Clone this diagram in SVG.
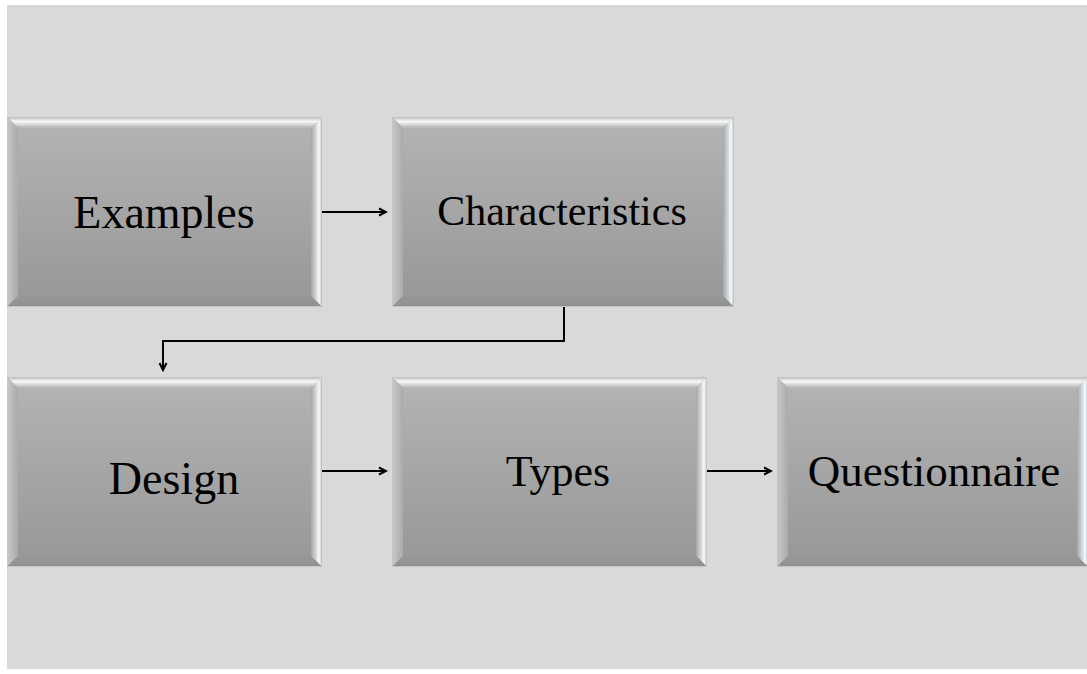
<svg xmlns="http://www.w3.org/2000/svg" width="1087" height="674" viewBox="0 0 1087 674">
  <defs>
    <style>
      .face { fill: url(#faceGrad); stroke: #c4c4c4; stroke-width: 1; }
      .bev-top { fill: url(#bevTop); }
      .bev-left { fill: url(#bevLeft); }
      .bev-right { fill: url(#bevRight); }
      .bev-bottom { fill: url(#bevBottom); }
      .label { font-family: "Liberation Serif", "Times New Roman", serif; fill: #000; text-anchor: middle; }
      .conn { fill: none; stroke: #000; stroke-width: 2; }
    </style>
    <linearGradient id="faceGrad" x1="0" y1="0" x2="0" y2="1">
      <stop offset="0" stop-color="#b4b4b4"/>
      <stop offset="1" stop-color="#979797"/>
    </linearGradient>
    <linearGradient id="bevTop" x1="0" y1="0" x2="0" y2="1">
      <stop offset="0" stop-color="#c8c8c8"/>
      <stop offset="0.35" stop-color="#f8f8f8"/>
      <stop offset="1" stop-color="#b4b4b4"/>
    </linearGradient>
    <linearGradient id="bevLeft" x1="0" y1="0" x2="1" y2="0">
      <stop offset="0" stop-color="#c6c6c6"/>
      <stop offset="1" stop-color="#aaaaaa"/>
    </linearGradient>
    <linearGradient id="bevRight" x1="0" y1="0" x2="1" y2="0">
      <stop offset="0" stop-color="#a6a6a6"/>
      <stop offset="0.55" stop-color="#d8dcde"/>
      <stop offset="0.8" stop-color="#f4fbff"/>
      <stop offset="1" stop-color="#cfd6da"/>
    </linearGradient>
    <linearGradient id="bevBottom" x1="0" y1="0" x2="0" y2="1">
      <stop offset="0" stop-color="#989898"/>
      <stop offset="1" stop-color="#909090"/>
    </linearGradient>
    <marker id="arrow" markerWidth="10" markerHeight="10" refX="8" refY="5" orient="auto" markerUnits="userSpaceOnUse">
      <path d="M1,1.5 L8,5 L1,8.5" fill="none" stroke="#000" stroke-width="2"/>
    </marker>
  </defs>

  <!-- canvas -->
  <rect x="0" y="0" width="1087" height="674" fill="#ffffff"/>
  <rect x="7" y="5" width="1080" height="664" fill="#d9d9d9"/>

  <!-- connectors -->
  <g id="connectors">
    <line class="conn" x1="322" y1="212" x2="386" y2="212" marker-end="url(#arrow)"/>
    <polyline class="conn" points="564,306 564,341 163,341 163,370" marker-end="url(#arrow)"/>
    <line class="conn" x1="322" y1="471" x2="386" y2="471" marker-end="url(#arrow)"/>
    <line class="conn" x1="707" y1="471" x2="771" y2="471" marker-end="url(#arrow)"/>
  </g>

  <!-- Examples -->
  <g id="node-examples">
    <rect class="face" x="7.5" y="117.5" width="314" height="189"/>
    <polygon class="bev-top" points="8,118 321,118 311,128 18,128"/>
    <polygon class="bev-left" points="8,118 18,128 18,296 8,306"/>
    <polygon class="bev-right" points="321,118 321,306 311,296 311,128"/>
    <polygon class="bev-bottom" points="8,306 18,296 311,296 321,306"/>
    <text class="label" x="164" y="228" font-size="46">Examples</text>
  </g>

  <!-- Characteristics -->
  <g id="node-characteristics">
    <rect class="face" x="392.5" y="117.5" width="341" height="189"/>
    <polygon class="bev-top" points="393,118 733,118 723,128 403,128"/>
    <polygon class="bev-left" points="393,118 403,128 403,296 393,306"/>
    <polygon class="bev-right" points="733,118 733,306 723,296 723,128"/>
    <polygon class="bev-bottom" points="393,306 403,296 723,296 733,306"/>
    <text class="label" x="562" y="225" font-size="42">Characteristics</text>
  </g>

  <!-- Design -->
  <g id="node-design">
    <rect class="face" x="7.5" y="377.5" width="314" height="189"/>
    <polygon class="bev-top" points="8,378 321,378 311,388 18,388"/>
    <polygon class="bev-left" points="8,378 18,388 18,556 8,566"/>
    <polygon class="bev-right" points="321,378 321,566 311,556 311,388"/>
    <polygon class="bev-bottom" points="8,566 18,556 311,556 321,566"/>
    <text class="label" x="174" y="494" font-size="46">Design</text>
  </g>

  <!-- Types -->
  <g id="node-types">
    <rect class="face" x="392.5" y="377.5" width="314" height="189"/>
    <polygon class="bev-top" points="393,378 706,378 696,388 403,388"/>
    <polygon class="bev-left" points="393,378 403,388 403,556 393,566"/>
    <polygon class="bev-right" points="706,378 706,566 696,556 696,388"/>
    <polygon class="bev-bottom" points="393,566 403,556 696,556 706,566"/>
    <text class="label" x="558" y="486" font-size="44">Types</text>
  </g>

  <!-- Questionnaire -->
  <g id="node-questionnaire">
    <rect class="face" x="777.5" y="377.5" width="314" height="189"/>
    <polygon class="bev-top" points="778,378 1087,378 1077,388 788,388"/>
    <polygon class="bev-left" points="778,378 788,388 788,556 778,566"/>
    <polygon class="bev-right" points="1087,378 1087,566 1077,556 1077,388"/>
    <polygon class="bev-bottom" points="778,566 788,556 1077,556 1087,566"/>
    <text class="label" x="934" y="486" font-size="45">Questionnaire</text>
  </g>
</svg>
